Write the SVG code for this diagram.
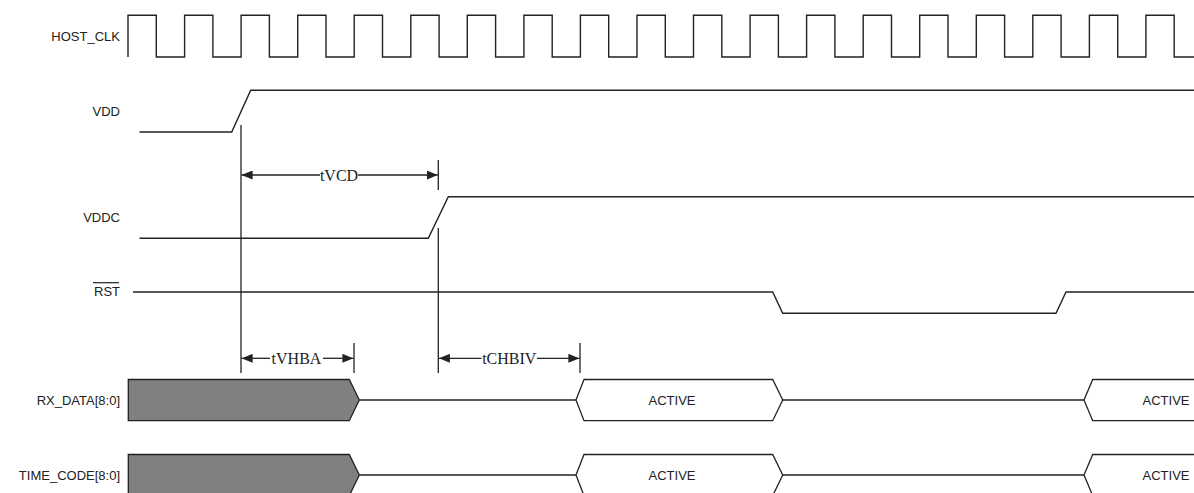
<svg xmlns="http://www.w3.org/2000/svg" width="1194" height="493" viewBox="0 0 1194 493">
<style>
.w{fill:none;stroke:#222;stroke-width:1.4}
.lbl{font-family:"Liberation Sans",Arial,sans-serif;font-size:13px;fill:#222;text-anchor:end}
.val{font-family:"Liberation Sans",Arial,sans-serif;font-size:13px;fill:#222;text-anchor:middle}
.dim{font-family:"Liberation Serif","Times New Roman",serif;font-size:16px;fill:#222;text-anchor:middle}
.ext{fill:none;stroke:#222;stroke-width:1.3}
.busx{fill:#808080;stroke:#222;stroke-width:1.3}
.hex{fill:#fff;stroke:#222;stroke-width:1.3}
</style>
<defs>
<marker id="ah" viewBox="0 0 11 9" refX="11" refY="4.5" markerWidth="11" markerHeight="9" markerUnits="userSpaceOnUse" orient="auto">
<path d="M0,0 L11,4.5 L0,9 z" fill="#222"/>
</marker>
</defs>
<rect width="1194" height="493" fill="#fff"/>

<g id="host_clk">
<text class="lbl" x="120" y="40.7">HOST_CLK</text>
<path class="w" d="M128,57 V15.3 H156.3 V57 H184.6 V15.3 H212.9 V57 H241.1 V15.3 H269.4 V57 H297.7 V15.3 H326 V57 H354.2 V15.3 H382.5 V57 H410.8 V15.3 H439.1 V57 H467.3 V15.3 H495.6 V57 H523.9 V15.3 H552.2 V57 H580.4 V15.3 H608.7 V57 H637 V15.3 H665.3 V57 H693.5 V15.3 H721.8 V57 H750.1 V15.3 H778.4 V57 H806.6 V15.3 H834.9 V57 H863.2 V15.3 H891.5 V57 H919.7 V15.3 H948 V57 H976.3 V15.3 H1004.6 V57 H1032.8 V15.3 H1061.1 V57 H1089.4 V15.3 H1117.7 V57 H1145.9 V15.3 H1174.2 V57 H1194"/>
</g>

<g id="vdd">
<text class="lbl" x="120" y="115.5">VDD</text>
<path class="w" d="M139.5,132 H231.7 L250.7,90.3 H1194"/>
</g>

<g id="vddc">
<text class="lbl" x="120" y="221.5">VDDC</text>
<path class="w" d="M139.5,238.3 H428.3 L448.3,196.7 H1194"/>
</g>

<g id="rst">
<text class="lbl" x="120" y="296">RST</text>
<line x1="93" y1="282.7" x2="119" y2="282.7" stroke="#222" stroke-width="1.2"/>
<path class="w" d="M133,292 H772.7 L782.7,313.3 H1056 L1066,292 H1194"/>
</g>

<g id="rx_data">
<text class="lbl" x="120" y="405">RX_DATA[8:0]</text>
<path class="busx" d="M128.3,379.5 H349.3 L359.3,400 L349.3,420.7 H128.3 Z"/>
<path class="w" d="M359.3,400 H576"/>
<path class="hex" d="M576,400 L584,379.5 H772.7 L782.7,400 L772.7,420.7 H584 Z"/>
<text class="val" x="672" y="404.5">ACTIVE</text>
<path class="w" d="M782.7,400 H1084"/>
<path class="hex" d="M1194,379.5 H1092.7 L1084,400 L1092.7,420.7 H1194"/>
<text class="val" x="1166" y="404.5">ACTIVE</text>
</g>

<g id="time_code">
<text class="lbl" x="120" y="480">TIME_CODE[8:0]</text>
<path class="busx" d="M128.3,454.5 H349.3 L359.3,475 L349.3,495.7 H128.3 Z"/>
<path class="w" d="M359.3,475 H576"/>
<path class="hex" d="M576,475 L584,454.5 H772.7 L782.7,475 L772.7,495.7 H584 Z"/>
<text class="val" x="672" y="479.5">ACTIVE</text>
<path class="w" d="M782.7,475 H1084"/>
<path class="hex" d="M1194,454.5 H1092.7 L1084,475 L1092.7,495.7 H1194"/>
<text class="val" x="1166" y="479.5">ACTIVE</text>
</g>

<g id="connectors">
<line class="ext" x1="241" y1="125" x2="241" y2="373"/>
<line class="ext" x1="438.3" y1="160" x2="438.3" y2="190"/>
<line class="ext" x1="438.3" y1="228" x2="438.3" y2="373"/>
<line class="ext" x1="354" y1="343" x2="354" y2="373"/>
<line class="ext" x1="580" y1="343" x2="580" y2="373"/>

<g id="tVCD">
<line class="ext" x1="320" y1="175" x2="241.6" y2="175" marker-end="url(#ah)"/>
<line class="ext" x1="358" y1="175" x2="437.7" y2="175" marker-end="url(#ah)"/>
<text class="dim" x="339" y="180.5">tVCD</text>
</g>
<g id="tVHBA">
<line class="ext" x1="270" y1="358.3" x2="241.6" y2="358.3" marker-end="url(#ah)"/>
<line class="ext" x1="323" y1="358.3" x2="353.4" y2="358.3" marker-end="url(#ah)"/>
<text class="dim" x="296.5" y="363.5">tVHBA</text>
</g>
<g id="tCHBIV">
<line class="ext" x1="481.5" y1="358.3" x2="438.9" y2="358.3" marker-end="url(#ah)"/>
<line class="ext" x1="537" y1="358.3" x2="579.4" y2="358.3" marker-end="url(#ah)"/>
<text class="dim" x="509.3" y="363.5">tCHBIV</text>
</g>
</g>
</svg>
